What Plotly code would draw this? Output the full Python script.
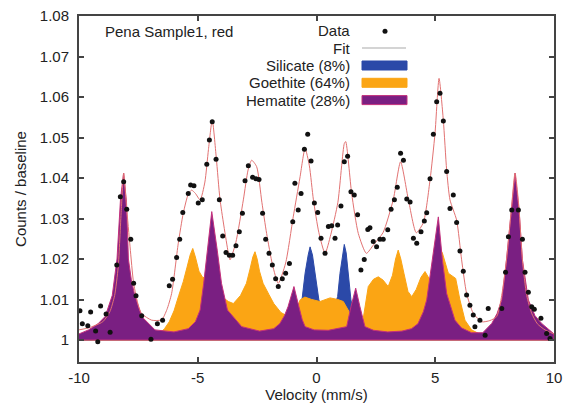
import plotly.graph_objects as go

BASELINE = 1.0

# Hematite component (purple)
hem_x = [-10, -9.6, -9.2, -8.9, -8.6, -8.4, -8.25, -8.12, -8.0, -7.92, -7.8, -7.67, -7.36, -6.8, -6.0,
         -5.4, -5.1, -4.9, -4.75, -4.6, -4.41, -4.18, -4.0, -3.75, -3.15, -2.4,
         -1.8, -1.55, -1.35, -1.2, -0.95, -0.74, -0.6, -0.48, -0.1, 0.5, 1.0,
         1.27, 1.45, 1.65, 1.83, 2.04, 2.4, 3.0, 3.6, 4.0, 4.27, 4.5, 4.64, 4.85, 5.0, 5.13,
         5.3, 5.48, 5.83, 6.1, 6.53, 7.0, 7.38, 7.6, 7.8, 8.0, 8.19, 8.36, 8.53, 8.67, 8.92,
         9.2, 9.48, 10]
hem_y = [1.0015, 1.0025, 1.0040, 1.0058, 1.0110, 1.0200, 1.0350, 1.0412, 1.0340, 1.0200, 1.0150, 1.0115, 1.0058, 1.0025, 1.0020,
         1.0028, 1.0045, 1.0074, 1.0140, 1.0222, 1.0317, 1.0222, 1.0140, 1.0074, 1.0033, 1.0022,
         1.0028, 1.0040, 1.0060, 1.0082, 1.0132, 1.0082, 1.0050, 1.0033, 1.0025, 1.0024, 1.0030,
         1.0033, 1.0082, 1.0128, 1.0082, 1.0033, 1.0024, 1.0020, 1.0022, 1.0028, 1.0040, 1.0070, 1.0099, 1.0181, 1.0250, 1.0304,
         1.0198, 1.0115, 1.0049, 1.0030, 1.0018, 1.0018, 1.0041, 1.0065, 1.0099, 1.0198, 1.0320, 1.0412, 1.0320, 1.0198, 1.0099,
         1.0060, 1.0041, 1.0015]

# Goethite component (orange)
goe_x = [-10, -7.0, -6.6, -6.4, -6.2, -6.0, -5.8, -5.61, -5.45, -5.32, -5.21, -5.1, -4.95, -4.8, -4.6, -4.4, -4.15,
         -3.99, -3.71, -3.5, -3.2, -2.95, -2.8, -2.68, -2.59, -2.5, -2.4, -2.25, -2.0, -1.8, -1.5, -1.19,
         -0.95, -0.69, -0.49, -0.2, 0.15, 0.57, 0.9, 1.13, 1.41, 1.65, 1.9, 2.05, 2.18, 2.4, 2.6, 2.8, 3.02,
         3.2, 3.33, 3.44, 3.55, 3.68, 3.85, 4.01, 4.2, 4.4, 4.57, 4.78, 5.0, 5.15,
         5.3, 5.55, 5.86, 6.04, 6.25, 6.53, 6.9, 10]
goe_y = [1.0012, 1.0013, 1.0016, 1.0028, 1.0045, 1.0072, 1.0110, 1.0144, 1.0180, 1.0210, 1.0226, 1.0205, 1.0170, 1.0155, 1.0152, 1.0150, 1.0140,
         1.0107, 1.0095, 1.0090, 1.0110, 1.0140, 1.0175, 1.0205, 1.0218, 1.0200, 1.0170, 1.0140, 1.0112, 1.0090, 1.0068, 1.0058,
         1.0060, 1.0099, 1.0106, 1.0100, 1.0095, 1.0104, 1.0100, 1.0095, 1.0066, 1.0040, 1.0028, 1.0090, 1.0132, 1.0150, 1.0156, 1.0148, 1.0132,
         1.0160, 1.0200, 1.0222, 1.0200, 1.0165, 1.0120, 1.0107, 1.0125, 1.0155, 1.0169, 1.0148, 1.0200, 1.0230,
         1.0215, 1.0165, 1.0152, 1.0099, 1.0049, 1.0025, 1.0014, 1.0012]

# Silicate component (blue)
sil_x = [-10, -1.5, -1.0, -0.75, -0.6, -0.48, -0.35, -0.27, -0.17, -0.06, 0.1, 0.3, 0.5, 0.7, 0.89, 0.99,
         1.1, 1.17, 1.25, 1.34, 1.45, 1.6, 2.0, 2.5, 10]
sil_y = [1.0, 1.001, 1.003, 1.006, 1.0105, 1.0165, 1.021, 1.023, 1.021, 1.0165, 1.0099, 1.007, 1.0068, 1.0075, 1.0107, 1.0165,
         1.0215, 1.0236, 1.0215, 1.0165, 1.0099, 1.006, 1.003, 1.0015, 1.0]

# Fit curve
fit_x = [-10, -9.6, -9.0, -8.7, -8.5, -8.35, -8.22, -8.12, -8.0, -7.85, -7.7, -7.5, -7.36, -6.94, -6.52, -6.3, -6.1,
         -5.82, -5.61, -5.4, -5.26, -5.1, -4.9, -4.7, -4.55, -4.39, -4.22, -4.06, -3.71, -3.64, -3.4, -3.08,
         -2.88, -2.73, -2.52, -2.3, -2.1, -1.85, -1.61, -1.3, -0.98, -0.7, -0.48, -0.3, -0.13, 0.1, 0.36,
         0.6, 0.9, 1.17, 1.23, 1.48, 1.76, 2.1, 2.4, 2.8, 3.23, 3.54, 3.87, 4.2, 4.5, 4.78, 4.99,
         5.16, 5.34, 5.48, 5.62, 5.9, 6.11, 6.32, 6.6, 6.96, 7.3, 7.59, 7.8, 8.0, 8.2, 8.36, 8.52,
         8.67, 8.85, 9.06, 9.3, 9.62, 10]
fit_y = [1.0025, 1.0030, 1.0045, 1.0070, 1.0110, 1.0180, 1.0320, 1.0412, 1.0330, 1.0230, 1.0140, 1.0085, 1.0065, 1.0049, 1.0050, 1.0075, 1.0115,
         1.0239, 1.0313, 1.0360, 1.0370, 1.0362, 1.0346, 1.0390, 1.0470, 1.0543, 1.0450, 1.0346, 1.0214, 1.0198, 1.0240, 1.0346,
         1.0420, 1.0444, 1.0428, 1.0340, 1.0263, 1.0185, 1.0140, 1.0190, 1.0304, 1.0400, 1.0473, 1.0430, 1.0346, 1.0265, 1.0214,
         1.0260, 1.0340, 1.0485, 1.0490, 1.0362, 1.0263, 1.0214, 1.0235, 1.0265, 1.0346, 1.0440, 1.0346, 1.0265, 1.0290, 1.0395, 1.0510,
         1.0646, 1.0543, 1.0420, 1.0346, 1.0296, 1.0198, 1.0115, 1.0066, 1.0045, 1.0048, 1.0058, 1.0110, 1.0198, 1.0320, 1.0412, 1.0330,
         1.0198, 1.0110, 1.0066, 1.0040, 1.0025, 1.0015]

# Measured data points
data_x = [-9.96, -9.86, -9.63, -9.51, -9.30, -9.21, -9.09, -8.86, -8.69, -8.41, -8.26, -8.12, -7.99, -7.82, -7.70, -7.60,
          -7.36, -6.97, -6.70, -6.48, -6.20, -6.06, -5.89, -5.76, -5.63, -5.40, -5.30, -5.16, -4.98, -4.81, -4.62, -4.51,
          -4.39, -4.23, -4.09, -3.95, -3.81, -3.67, -3.53, -3.39, -3.25, -3.12, -3.01, -2.87, -2.69, -2.55, -2.42,
          -2.27, -2.14, -2.00, -1.86, -1.72, -1.61, -1.44, -1.30, -1.14, -1.00, -0.91, -0.77, -0.65, -0.51, -0.37,
          -0.23, -0.09, 0.05, 0.19, 0.36, 0.50, 0.64, 0.78, 0.89, 1.03, 1.17, 1.31, 1.45, 1.59, 1.73, 1.87, 2.01,
          2.16, 2.25, 2.39, 2.53, 2.67, 2.81, 3.00, 3.14, 3.28, 3.40, 3.54, 3.66, 3.80, 3.94, 4.08, 4.22, 4.40,
          4.54, 4.64, 4.78, 4.92, 5.06, 5.20, 5.34, 5.48, 5.62, 5.76, 5.90, 6.04, 6.18, 6.32, 6.46, 6.60, 6.67,
          6.88, 7.10, 7.23, 7.80, 7.96, 8.08, 8.22, 8.50, 8.67, 8.78, 8.92, 9.06, 9.17, 9.45, 9.69, 9.83]
data_y = [1.0072, 1.0040, 1.0035, 1.0069, 1.0022, 0.9996, 1.0084, 1.0064, 1.0019, 1.0185, 1.0354, 1.0391, 1.0323, 1.0249, 1.0140, 1.0109,
          1.0060, 1.0002, 1.0040, 1.0049, 1.0134, 1.0150, 1.0204, 1.0249, 1.0315, 1.0362, 1.0383, 1.0381, 1.0338, 1.0346, 1.0434, 1.0494,
          1.0539, 1.0446, 1.0346, 1.0257, 1.0216, 1.0209, 1.0209, 1.0233, 1.0267, 1.0313, 1.0393, 1.0430, 1.0402, 1.0398, 1.0396,
          1.0313, 1.0249, 1.0214, 1.0185, 1.0151, 1.0132, 1.0151, 1.0165, 1.0189, 1.0292, 1.0387, 1.0321, 1.0362, 1.0471, 1.0508,
          1.0442, 1.0338, 1.0315, 1.0251, 1.0214, 1.0280, 1.0282, 1.0251, 1.0284, 1.0331, 1.0440, 1.0454, 1.0366, 1.0358, 1.0309, 1.0173, 1.0199,
          1.0273, 1.0277, 1.0243, 1.0230, 1.0249, 1.0249, 1.0272, 1.0323, 1.0346, 1.0377, 1.0461, 1.0444, 1.0348, 1.0341, 1.0251, 1.0239, 1.0267,
          1.0294, 1.0314, 1.0398, 1.0508, 1.0588, 1.0609, 1.0541, 1.0416, 1.0325, 1.0358, 1.0290, 1.0220, 1.0170, 1.0111, 1.0086, 1.0062, 1.0033,
          1.0049, 1.0012, 1.0078, 1.0078, 1.0167, 1.0255, 1.0321, 1.0321, 1.0249, 1.0167, 1.0118, 1.0082, 1.0076, 1.0054, 1.0016, 1.0004]

x_ticks = [-10, -5, 0, 5, 10]
y_ticks = [1.0, 1.01, 1.02, 1.03, 1.04, 1.05, 1.06, 1.07, 1.08]
y_tick_labels = ["1", "1.01", "1.02", "1.03", "1.04", "1.05", "1.06", "1.07", "1.08"]

legend_labels = ["Data", "Fit", "Silicate (8%)", "Goethite (64%)", "Hematite (28%)"]

BLUE = "#2b49a8"
ORANGE = "#fba514"
PURPLE = "#7a1f82"
PURPLE_EDGE = "#c4307c"
FIT_COLOR = "#e27272"
FONT = "Liberation Sans, Arial, sans-serif"


def closed(xs, ys):
    return xs + [xs[-1], xs[0]], ys + [BASELINE, BASELINE]


fig = go.Figure()
for xs, ys, col, edge in [(sil_x, sil_y, BLUE, BLUE), (goe_x, goe_y, ORANGE, ORANGE), (hem_x, hem_y, PURPLE, PURPLE_EDGE)]:
    cx, cy = closed(xs, ys)
    fig.add_trace(go.Scatter(x=cx, y=cy, mode="lines", fill="toself", fillcolor=col,
                             line=dict(color=edge, width=1), showlegend=False, hoverinfo="skip"))

fig.add_trace(go.Scatter(x=fit_x, y=fit_y, mode="lines", line=dict(color=FIT_COLOR, width=1, shape="spline", smoothing=0.6),
                         showlegend=False))
fig.add_trace(go.Scatter(x=data_x, y=data_y, mode="markers", marker=dict(color="#111111", size=5),
                         showlegend=False))

# Manual legend (text right-aligned, key to the right), paper coordinates
L, R, T, B = 79, 554, 16, 362
def px(xp):
    return (xp - L) / (R - L)
def py(yp):
    return (B - yp) / (B - T)

legend_y = [31.0, 48.2, 65.5, 82.8, 100.1]
for lab, yy in zip(legend_labels, legend_y):
    fig.add_annotation(x=px(352), y=py(yy), xref="paper", yref="paper", text=lab, showarrow=False,
                       xanchor="right", yanchor="middle", font=dict(size=15, color="#222222", family=FONT))

shapes = []
shapes.append(dict(type="circle", xref="paper", yref="paper", x0=px(382.5), x1=px(387.5), y0=py(33.7), y1=py(28.7),
                   fillcolor="#111111", line=dict(width=0)))
shapes.append(dict(type="line", xref="paper", yref="paper", x0=px(362), x1=px(406), y0=py(48), y1=py(48),
                   line=dict(color="#aaaaaa", width=1.2)))
for col, yy, edge in [(BLUE, 65.5, BLUE), (ORANGE, 82.8, ORANGE), (PURPLE, 100.1, PURPLE_EDGE)]:
    shapes.append(dict(type="rect", xref="paper", yref="paper", x0=px(362), x1=px(407), y0=py(yy + 4.5), y1=py(yy - 4.5),
                       fillcolor=col, line=dict(color=edge, width=1)))
fig.update_layout(shapes=shapes)

fig.add_annotation(x=px(103), y=py(32), xref="paper", yref="paper", text="Pena Sample1, red", showarrow=False,
                   xanchor="left", yanchor="middle", font=dict(size=15, color="#222222", family=FONT))

axis_common = dict(showline=True, linecolor="#444444", linewidth=2, mirror="ticks", ticks="inside", ticklen=5,
                   tickwidth=2, tickcolor="#444444", showgrid=False, zeroline=False, automargin=False,
                   tickfont=dict(size=15, color="#222222", family=FONT))

fig.update_xaxes(range=[-10, 10], tickvals=x_ticks, ticktext=[str(t) for t in x_ticks], ticklabelstandoff=1,
                 title=dict(text="Velocity (mm/s)", font=dict(size=15, color="#222222", family=FONT), standoff=4),
                 **axis_common)
fig.update_yaxes(range=[0.99457, 1.08], tickvals=y_ticks, ticktext=y_tick_labels, ticklabelstandoff=5,
                 title=dict(text="Counts / baseline", font=dict(size=15, color="#222222", family=FONT), standoff=10),
                 **axis_common)

fig.update_layout(width=570, height=408, margin=dict(l=79, r=16, t=16, b=46),
                  paper_bgcolor="white", plot_bgcolor="white", showlegend=False)

fig.write_html("out.html")
